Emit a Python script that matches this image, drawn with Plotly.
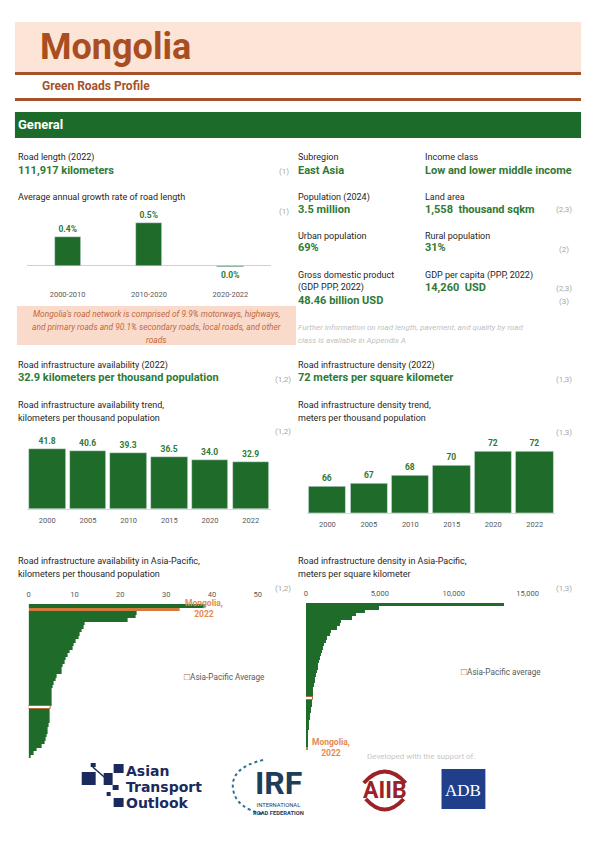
import plotly.graph_objects as go

W, H = 596, 842

# ---------------- data ----------------
growth_periods = ["2000-2010", "2010-2020", "2020-2022"]
growth_rates = [0.36, 0.53, -0.01]
growth_labels = ["0.4%", "0.5%", "0.0%"]

trend_years = ["2000", "2005", "2010", "2015", "2020", "2022"]
availability_trend = [41.8, 40.6, 39.3, 36.5, 34.0, 32.9]
density_trend = [66.0, 66.6, 68.0, 69.6, 72.0, 72.0]

# Asia-Pacific rankings (sorted, top to bottom)
ap_availability = [38.3, 32.9, 23.5, 23.4, 21.7, 12.2, 12.0, 11.6, 11.2, 10.8,
                   10.2, 9.9, 9.7, 9.0, 8.4, 8.1, 7.9, 7.5, 7.3, 7.2,
                   6.1, 5.8, 5.5, 5.2, 5.1, 5.0, 5.0, 5.0, 5.0, 4.9,
                   4.6, 4.6, 4.5, 4.5, 4.3, 4.2, 4.1, 3.9, 3.7, 3.4,
                   2.8, 1.7, 1.0, 0.4]
ap_availability_mongolia = 1
ap_availability_average = 29

ap_density = [13400, 4950, 4000, 3400, 3100, 2400, 2300, 2100, 1700, 1650,
              1400, 1330, 1250, 1150, 1080, 1000, 920, 870, 820, 780,
              720, 680, 620, 580, 540, 500, 480, 470, 470, 420,
              380, 350, 310, 270, 250, 220, 190, 170, 150, 125,
              110, 95, 80, 72]
ap_density_mongolia = 43
ap_density_average = 28

avail_ticks = [0, 10, 20, 30, 40, 50]
density_ticks = [0, 5000, 10000, 15000]

# ---------------- styling ----------------
FONT = "Roboto"
GREEN = "#1E6B2A"
GREEN_TXT = "#2F7A36"
ORANGE = "#D27B3C"
ORANGE_TXT = "#E38B4F"
BROWN = "#A5522A"
GRAY_TXT = "#595959"
REF_GRAY = "#A6A6A6"
PINK = "#FCE4D6"
NOTE_PINK = "#FADBCB"
AVG_LINE = "#B8652F"


def X(px):
    return px / W


def Y(py):
    return 1 - py / H


def dom_x(a, b):
    return [X(a), X(b)]


def dom_y(top, bottom):
    return [Y(bottom), Y(top)]


fig = go.Figure()

LBL = dict(family=FONT, size=8.5, color=GREEN_TXT)

# growth rate chart
fig.add_trace(go.Bar(
    x=growth_periods, y=growth_rates, text=growth_labels,
    texttemplate="<b>%{text}</b>", textposition="outside", textfont=LBL,
    marker=dict(color=GREEN), cliponaxis=False, width=0.32,
    xaxis="x", yaxis="y", showlegend=False, hoverinfo="skip"))

# availability trend
fig.add_trace(go.Bar(
    x=trend_years, y=availability_trend,
    texttemplate="<b>%{y:.1f}</b>", textposition="outside", textfont=LBL,
    marker=dict(color=GREEN), cliponaxis=False, width=0.9,
    xaxis="x2", yaxis="y2", showlegend=False, hoverinfo="skip"))

# density trend
fig.add_trace(go.Bar(
    x=trend_years, y=density_trend,
    texttemplate="<b>%{y:.0f}</b>", textposition="outside", textfont=LBL,
    marker=dict(color=GREEN), cliponaxis=False, width=0.9,
    xaxis="x3", yaxis="y3", showlegend=False, hoverinfo="skip"))


def ranking_style(values, mongolia, average):
    fills, lines, widths = [], [], []
    for i in range(len(values)):
        if i == mongolia:
            fills.append(ORANGE); lines.append(ORANGE); widths.append(0)
        elif i == average:
            fills.append("white"); lines.append(AVG_LINE); widths.append(1)
        else:
            fills.append(GREEN); lines.append(GREEN); widths.append(0)
    return fills, lines, widths


f, l, w = ranking_style(ap_availability, ap_availability_mongolia, ap_availability_average)
fig.add_trace(go.Bar(
    x=ap_availability, y=list(range(len(ap_availability))), orientation="h",
    marker=dict(color=f, line=dict(color=l, width=w)), width=1.0,
    xaxis="x4", yaxis="y4", showlegend=False, hoverinfo="skip"))

f, l, w = ranking_style(ap_density, ap_density_mongolia, ap_density_average)
fig.add_trace(go.Bar(
    x=ap_density, y=list(range(len(ap_density))), orientation="h",
    marker=dict(color=f, line=dict(color=l, width=w)), width=1.0,
    xaxis="x5", yaxis="y5", showlegend=False, hoverinfo="skip"))

tickfont = dict(family=FONT, size=7.5, color=GRAY_TXT)
hidden = dict(showgrid=False, zeroline=False, showticklabels=False, showline=False)

n_av = len(ap_availability)
n_de = len(ap_density)

fig.update_layout(
    width=W, height=H, autosize=False,
    margin=dict(l=0, r=0, t=0, b=0),
    paper_bgcolor="white", plot_bgcolor="rgba(0,0,0,0)",
    barmode="overlay", bargap=0,
    font=dict(family=FONT, color=GRAY_TXT),
    xaxis=dict(domain=dom_x(25, 270), anchor="y", showgrid=False, zeroline=False,
               showline=False, tickfont=tickfont, ticks="", ticklabelstandoff=1),
    yaxis=dict(domain=dom_y(217, 287), anchor="x", range=[-0.26, 0.6], showgrid=False,
               zeroline=True, zerolinecolor="#D0D0D0", zerolinewidth=1, showticklabels=False),
    xaxis2=dict(domain=dom_x(25, 270), anchor="y2", showgrid=False, zeroline=False,
                showline=True, linecolor="#D9D9D9", linewidth=1, tickfont=tickfont, ticks="",
                ticklabelstandoff=4),
    yaxis2=dict(domain=dom_y(430, 509), anchor="x2", range=[0, 55], **hidden),
    xaxis3=dict(domain=dom_x(305.7, 555.3), anchor="y3", showgrid=False, zeroline=False,
                showline=True, linecolor="#D9D9D9", linewidth=1, tickfont=tickfont, ticks="",
                ticklabelstandoff=4),
    yaxis3=dict(domain=dom_y(437.6, 512.7), anchor="x3", range=[61.5, 74.5], **hidden),
    xaxis4=dict(domain=dom_x(26.7, 279.7), anchor="y4", side="top", range=[0, 55],
                tickvals=avail_ticks, showgrid=False, zeroline=False, showline=False,
                tickfont=tickfont, ticks="", ticklabelstandoff=5),
    yaxis4=dict(domain=dom_y(604, 758), anchor="x4", range=[n_av - 0.5, -0.5], **hidden),
    xaxis5=dict(domain=dom_x(305, 557), anchor="y5", side="top", range=[0, 17000],
                tickvals=density_ticks, tickformat=",", showgrid=False, zeroline=False,
                showline=False, tickfont=tickfont, ticks="", ticklabelstandoff=5),
    yaxis5=dict(domain=dom_y(603, 750), anchor="x5", range=[n_de - 0.5, -0.5], **hidden),
)

# ---------------- shapes ----------------
shapes = []


def rect(x0, y0, x1, y1, fill, line=None, lw=0, layer="below"):
    shapes.append(dict(type="rect", xref="paper", yref="paper",
                       x0=X(x0), x1=X(x1), y0=Y(y1), y1=Y(y0),
                       fillcolor=fill, line=dict(color=line or fill, width=lw), layer=layer))


rect(13, 22, 581, 72, PINK)
rect(13, 72, 581, 75, BROWN)
rect(13, 98, 581, 101, BROWN)
rect(13, 112, 581, 138, "#1D6B2B")
rect(15, 306, 295, 345, NOTE_PINK)

# logos (approximate drawings)
NAVY = "#1B2A5E"
for (a, b, c, d) in [(80, 772, 94, 785), (89, 763, 94, 767), (102, 773, 111, 785),
                     (112, 764, 122, 773), (111, 785, 117, 790), (105, 792, 109, 796),
                     (112, 798, 122, 807)]:
    rect(a, b, c, d, NAVY, layer="above")
shapes.append(dict(type="line", xref="paper", yref="paper", x0=X(91), y0=Y(767), x1=X(106),
                   y1=Y(780), line=dict(color=NAVY, width=1.5)))


def path(points_cmd, color, width, dash="solid"):
    shapes.append(dict(type="path", xref="paper", yref="paper", path=points_cmd,
                       line=dict(color=color, width=width, dash=dash), layer="above"))


def P(x, y):
    return f"{X(x):.5f},{Y(y):.5f}"


# IRF dotted arc
path(f"M{P(262, 760)} Q{P(228, 768)} {P(232, 790)} Q{P(235, 808)} {P(262, 814)}", "#2F6F8F", 2, "dot")
# AIIB arcs
AIIB_RED = "#9B2226"
path(f"M{P(363, 783)} Q{P(384, 760)} {P(405, 783)}", AIIB_RED, 4)
path(f"M{P(365, 799)} Q{P(384, 820)} {P(403, 799)}", AIIB_RED, 4)
# ADB square
rect(441, 769, 485, 809, "#1F3F8A", layer="above")

fig.update_layout(shapes=shapes)

# ---------------- annotations ----------------
ann = []
PAD = 3  # annotation box padding compensation for left-anchored text


def txt(x, y, s, size=9, color="#262626", bold=False, italic=False, anchor="left",
        family=FONT, align=None):
    if bold:
        s = f"<b>{s}</b>"
    if italic:
        s = f"<i>{s}</i>"
    if anchor == "left":
        x = x - PAD
    ann.append(dict(x=X(x), y=Y(y), xref="paper", yref="paper", text=s, showarrow=False,
                    xanchor=anchor, yanchor="middle", align=align or anchor,
                    font=dict(family=family, size=size, color=color)))


# header
txt(39, 47, "Mongolia", 36, "#A84E20", bold=True)
txt(41, 86, "Green Roads Profile", 12, BROWN, bold=True)
txt(17, 125, "General", 13, "white", bold=True)

LAB = "#262626"
# left column
txt(17, 157, "Road length (2022)", 9, LAB)
txt(17, 170, "111,917 kilometers", 11, GREEN_TXT, bold=True)
txt(283, 171, "(1)", 8, REF_GRAY, anchor="center")
txt(17, 197, "Average annual growth rate of road length", 9, LAB)
txt(283, 211, "(1)", 8, REF_GRAY, anchor="center")

note_lines = ["Mongolia's road network is comprised of 9.9% motorways, highways,",
              "and primary roads and 90.1% secondary roads, local roads, and other",
              "roads"]
for i, s in enumerate(note_lines):
    txt(155, 314 + 13 * i, s, 8.4, "#C4683A", italic=True, anchor="center")

# right column
txt(298, 157, "Subregion", 9, LAB)
txt(298, 170, "East Asia", 11, GREEN_TXT, bold=True)
txt(425, 157, "Income class", 9, LAB)
txt(425, 170, "Low and lower middle income", 11, GREEN_TXT, bold=True)
txt(298, 197, "Population (2024)", 9, LAB)
txt(298, 209, "3.5 million", 11, GREEN_TXT, bold=True)
txt(425, 197, "Land area", 9, LAB)
txt(425, 209, "1,558  thousand sqkm", 11, GREEN_TXT, bold=True)
txt(564, 210, "(2,3)", 8, REF_GRAY, anchor="center")
txt(298, 236, "Urban population", 9, LAB)
txt(298, 248, "69%", 11, GREEN_TXT, bold=True)
txt(425, 236, "Rural population", 9, LAB)
txt(425, 248, "31%", 11, GREEN_TXT, bold=True)
txt(564, 249, "(2)", 8, REF_GRAY, anchor="center")
txt(298, 275, "Gross domestic product", 9, LAB)
txt(298, 287, "(GDP PPP, 2022)", 9, LAB)
txt(298, 300, "48.46 billion USD", 11, GREEN_TXT, bold=True)
txt(425, 275, "GDP per capita (PPP, 2022)", 9, LAB)
txt(425, 287, "14,260  USD", 11, GREEN_TXT, bold=True)
txt(564, 288, "(2,3)", 8, REF_GRAY, anchor="center")
txt(564, 301, "(3)", 8, REF_GRAY, anchor="center")
txt(298, 328, "Further information on road length, pavement, and quality by road", 8, "#BFBFBF", italic=True)
txt(298, 340, "class is available in Appendix A", 8, "#BFBFBF", italic=True)

# section 2
txt(17, 365, "Road infrastructure availability (2022)", 9, LAB)
txt(17, 378, "32.9 kilometers per thousand population", 11, GREEN_TXT, bold=True)
txt(282, 379, "(1,2)", 8, REF_GRAY, anchor="center")
txt(298, 365, "Road infrastructure density (2022)", 9, LAB)
txt(298, 378, "72 meters per square kilometer", 11, GREEN_TXT, bold=True)
txt(564, 379, "(1,3)", 8, REF_GRAY, anchor="center")
txt(17, 405, "Road infrastructure availability trend,", 9, LAB)
txt(17, 418, "kilometers per thousand population", 9, LAB)
txt(282, 431, "(1,2)", 8, REF_GRAY, anchor="center")
txt(298, 405, "Road infrastructure density trend,", 9, LAB)
txt(298, 418, "meters per thousand population", 9, LAB)
txt(564, 432, "(1,3)", 8, REF_GRAY, anchor="center")

# section 3
txt(17, 561, "Road infrastructure availability in Asia-Pacific,", 9, LAB)
txt(17, 574, "kilometers per thousand population", 9, LAB)
txt(282, 588, "(1,2)", 8, REF_GRAY, anchor="center")
txt(298, 561, "Road infrastructure density in Asia-Pacific,", 9, LAB)
txt(298, 574, "meters per square kilometer", 9, LAB)
txt(564, 588, "(1,3)", 8, REF_GRAY, anchor="center")

txt(203, 608.5, "Mongolia,<br>2022", 8.5, ORANGE_TXT, bold=True, anchor="center", align="center")
txt(330, 747.5, "Mongolia,<br>2022", 8.5, ORANGE_TXT, bold=True, anchor="center", align="center")
SQ = f"<span style='color:{AVG_LINE};font-size:10px'>□</span>"
txt(184, 676, SQ + "Asia-Pacific Average", 8.2, GRAY_TXT)
txt(462, 671, SQ + "Asia-Pacific average", 8.2, GRAY_TXT)

txt(367, 756, "Developed with the support of:", 8, "#C8C8C8")

# logo texts
for i, s in enumerate(["Asian", "Transport", "Outlook"]):
    txt(125, 771 + 16 * i, s, 14, NAVY, bold=True, family="DejaVu Sans")
txt(277, 783, "IRF", 32, "#1E3D59", bold=True, anchor="center")
txt(277, 809, "INTERNATIONAL<br><b>ROAD FEDERATION</b>", 5.8, "#1E3D59", anchor="center",
    align="center")
txt(384, 790, "AIIB", 23, AIIB_RED, bold=True, anchor="center")
txt(463, 790, "ADB", 17, "white", anchor="center", family="Liberation Serif")

fig.update_layout(annotations=ann)

fig.write_html("out.html", config={"displayModeBar": False},
               post_script="document.body.style.margin='0';")
